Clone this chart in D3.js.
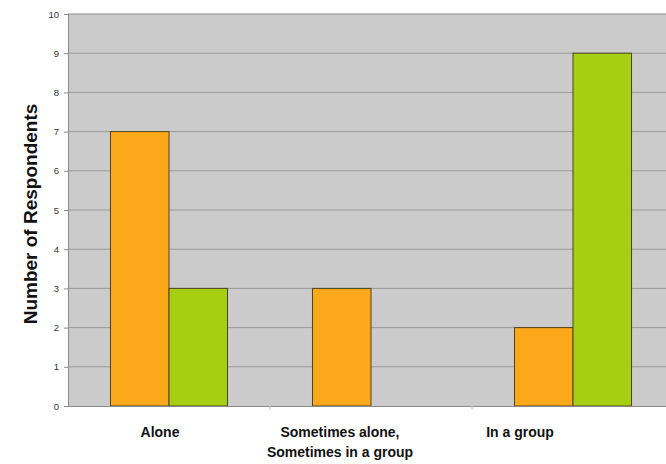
<!DOCTYPE html>
<html>
<head>
<meta charset="utf-8">
<script src="https://cdn.jsdelivr.net/npm/d3@7"></script>
<style>
  html, body { margin: 0; padding: 0; background: #fff; }
  svg { display: block; font-family: "Liberation Sans", Arial, sans-serif; }
</style>
</head>
<body>
<svg id="chart" width="666" height="464"></svg>
<script>
// Survey responses: how respondents prefer to work
const categories = ["Alone", "Sometimes alone,\nSometimes in a group", "In a group"];
const seriesNames = ["Series A", "Series B"];
const seriesA = [7, 3, 2];
const seriesB = [3, 0, 9];
const yTicks = [0, 1, 2, 3, 4, 5, 6, 7, 8, 9, 10];
const yTitle = "Number of Respondents";

const colors = { "Series A": "#FBA81B", "Series B": "#A6CF14" };

const svg = d3.select("#chart");
const plot = { left: 68, right: 674, top: 14, bottom: 406 };

const x0 = d3.scaleBand().domain(categories).range([plot.left, plot.right]).paddingInner(0).paddingOuter(0);
const x1 = d3.scaleBand().domain(seriesNames).range([0, x0.bandwidth()]).paddingInner(0).paddingOuter(0.726);
const xLabel = d3.scaleBand().domain(categories).range([70, 610]);
const y = d3.scaleLinear().domain([0, 10]).range([plot.bottom, plot.top]);

// plot area background
svg.append("rect")
  .attr("x", plot.left).attr("y", plot.top)
  .attr("width", plot.right - plot.left).attr("height", plot.bottom - plot.top)
  .attr("fill", "#CBCBCB");

// horizontal gridlines
svg.append("g").selectAll("line").data(yTicks.filter(d => d > 0)).join("line")
  .attr("x1", plot.left).attr("x2", plot.right)
  .attr("y1", d => y(d)).attr("y2", d => y(d))
  .attr("stroke", d => d === 10 ? "#8a8a8a" : "#9a9a9a").attr("stroke-width", 1);

// bars
const rows = categories.map((c, i) => ({ cat: c, values: [
  { key: "Series A", value: seriesA[i] },
  { key: "Series B", value: seriesB[i] }
]}));

svg.append("g").selectAll("g").data(rows).join("g")
  .attr("transform", d => `translate(${x0(d.cat)},0)`)
  .selectAll("rect").data(d => d.values.filter(v => v.value > 0)).join("rect")
  .attr("x", d => x1(d.key))
  .attr("y", d => y(d.value))
  .attr("width", x1.bandwidth())
  .attr("height", d => y(0) - y(d.value))
  .attr("fill", d => colors[d.key])
  .attr("stroke", "#4d4420").attr("stroke-width", 1);

// y axis
const yAxis = d3.axisLeft(y).tickValues(yTicks).tickSize(4).tickPadding(5).tickFormat(d3.format("d"));
const gy = svg.append("g").attr("transform", `translate(${plot.left},0)`).call(yAxis);
gy.select(".domain").attr("stroke", "#8a8a8a");
gy.selectAll(".tick line").attr("stroke", "#8a8a8a");
gy.selectAll(".tick text").attr("font-size", 9.5).attr("fill", "#333")
  .attr("font-family", "'Liberation Sans', Arial, sans-serif");

// x axis
const xAxis = d3.axisBottom(x0).tickValues([]).tickSizeOuter(0);
const gx = svg.append("g").attr("transform", `translate(0,${plot.bottom})`).call(xAxis);
gx.select(".domain").attr("stroke", "#8a8a8a");
svg.append("g").selectAll("line").data(categories.slice(1)).join("line")
  .attr("x1", d => x0(d)).attr("x2", d => x0(d))
  .attr("y1", plot.bottom).attr("y2", plot.bottom + 4)
  .attr("stroke", "#c0c0c0");

// category labels
svg.append("g").selectAll("text").data(categories).join("text")
  .attr("x", d => xLabel(d) + xLabel.bandwidth() / 2)
  .attr("y", 437)
  .attr("text-anchor", "middle")
  .attr("font-size", 14).attr("font-weight", "bold").attr("fill", "#111")
  .each(function(d) {
    const lines = d.split("\n");
    d3.select(this).selectAll("tspan").data(lines).join("tspan")
      .attr("x", xLabel(d) + xLabel.bandwidth() / 2)
      .attr("dy", (l, i) => i === 0 ? 0 : 20)
      .text(l => l);
  });

// y axis title
svg.append("text")
  .attr("transform", `translate(37,${(plot.top + plot.bottom) / 2 + 4}) rotate(-90)`)
  .attr("text-anchor", "middle")
  .attr("font-size", 19).attr("font-weight", "bold").attr("fill", "#111")
  .text(yTitle);
</script>
</body>
</html>
